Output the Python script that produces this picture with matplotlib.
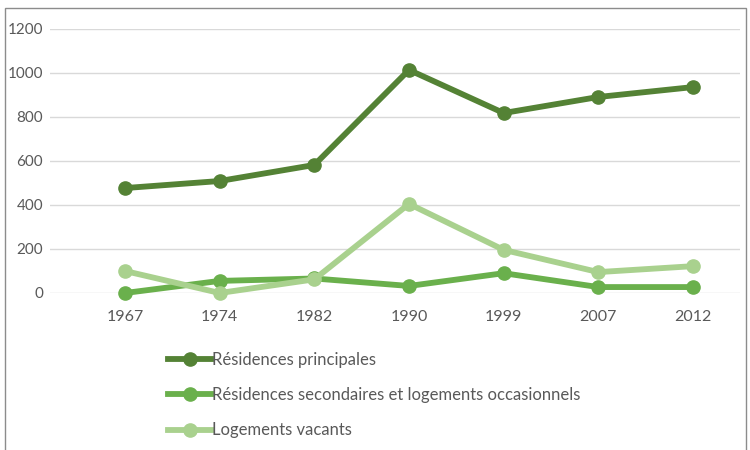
import matplotlib
matplotlib.use("Agg")
import matplotlib.pyplot as plt
from matplotlib.patches import Rectangle
from matplotlib.lines import Line2D

years = ["1967", "1974", "1982", "1990", "1999", "2007", "2012"]
principales = [477, 509, 582, 1014, 818, 891, 936]
secondaires = [0, 55, 66, 32, 90, 27, 27]
vacants = [100, 0, 62, 405, 196, 95, 122]
labels = ["Résidences principales",
          "Résidences secondaires et logements occasionnels",
          "Logements vacants"]
colors = ["#548235", "#6AB04C", "#A9D18E"]
yticks = [0, 200, 400, 600, 800, 1000, 1200]

plt.rcParams['font.family'] = ['Lato', 'DejaVu Sans']
W, H = 750, 450
fig = plt.figure(figsize=(7.5, 4.5), dpi=100)
ax = fig.add_axes([50 / W, 1 - 293 / H, 690 / W, (293 - 29) / H])

x = list(range(len(years)))
series = [principales, secondaires, vacants]
for vals, c, lab in zip(series, colors, labels):
    ax.plot(x, vals, color=c, lw=4.2, marker='o', ms=9.5, label=lab,
            clip_on=False, solid_capstyle='round', zorder=3)

ax.set_ylim(0, 1200)
ax.set_xlim(-(125 - 50) / 94.7, 6 + (740 - 693) / 94.7)
ax.set_yticks(yticks)
ax.set_xticks(x)
ax.set_xticklabels(years)
ax.grid(axis='y', color='#d9d9d9', lw=1)
ax.set_axisbelow(True)
for s in ax.spines.values():
    s.set_visible(False)
ax.tick_params(length=0, labelsize=11.5, colors='#595959')
ax.tick_params(axis='x', pad=12)
ax.tick_params(axis='y', pad=5, labelsize=11)

# legend
handles = [Line2D([0], [0], color=c, lw=4.2, marker='o', ms=9.5) for c in colors]
leg = fig.legend(handles, labels, loc='upper left',
                 bbox_to_anchor=(153 / W, 1 - 337 / H), frameon=False,
                 fontsize=12, labelcolor='#595959', handlelength=2.6,
                 handletextpad=0.05, labelspacing=1.15)

# outer frame
fig.patches.append(Rectangle((5 / W, -0.01), 741 / W, 1 - 8 / H + 0.01,
                             transform=fig.transFigure, fill=False,
                             edgecolor='#8c8c8c', lw=1))

fig.savefig("out.png", dpi=100)
